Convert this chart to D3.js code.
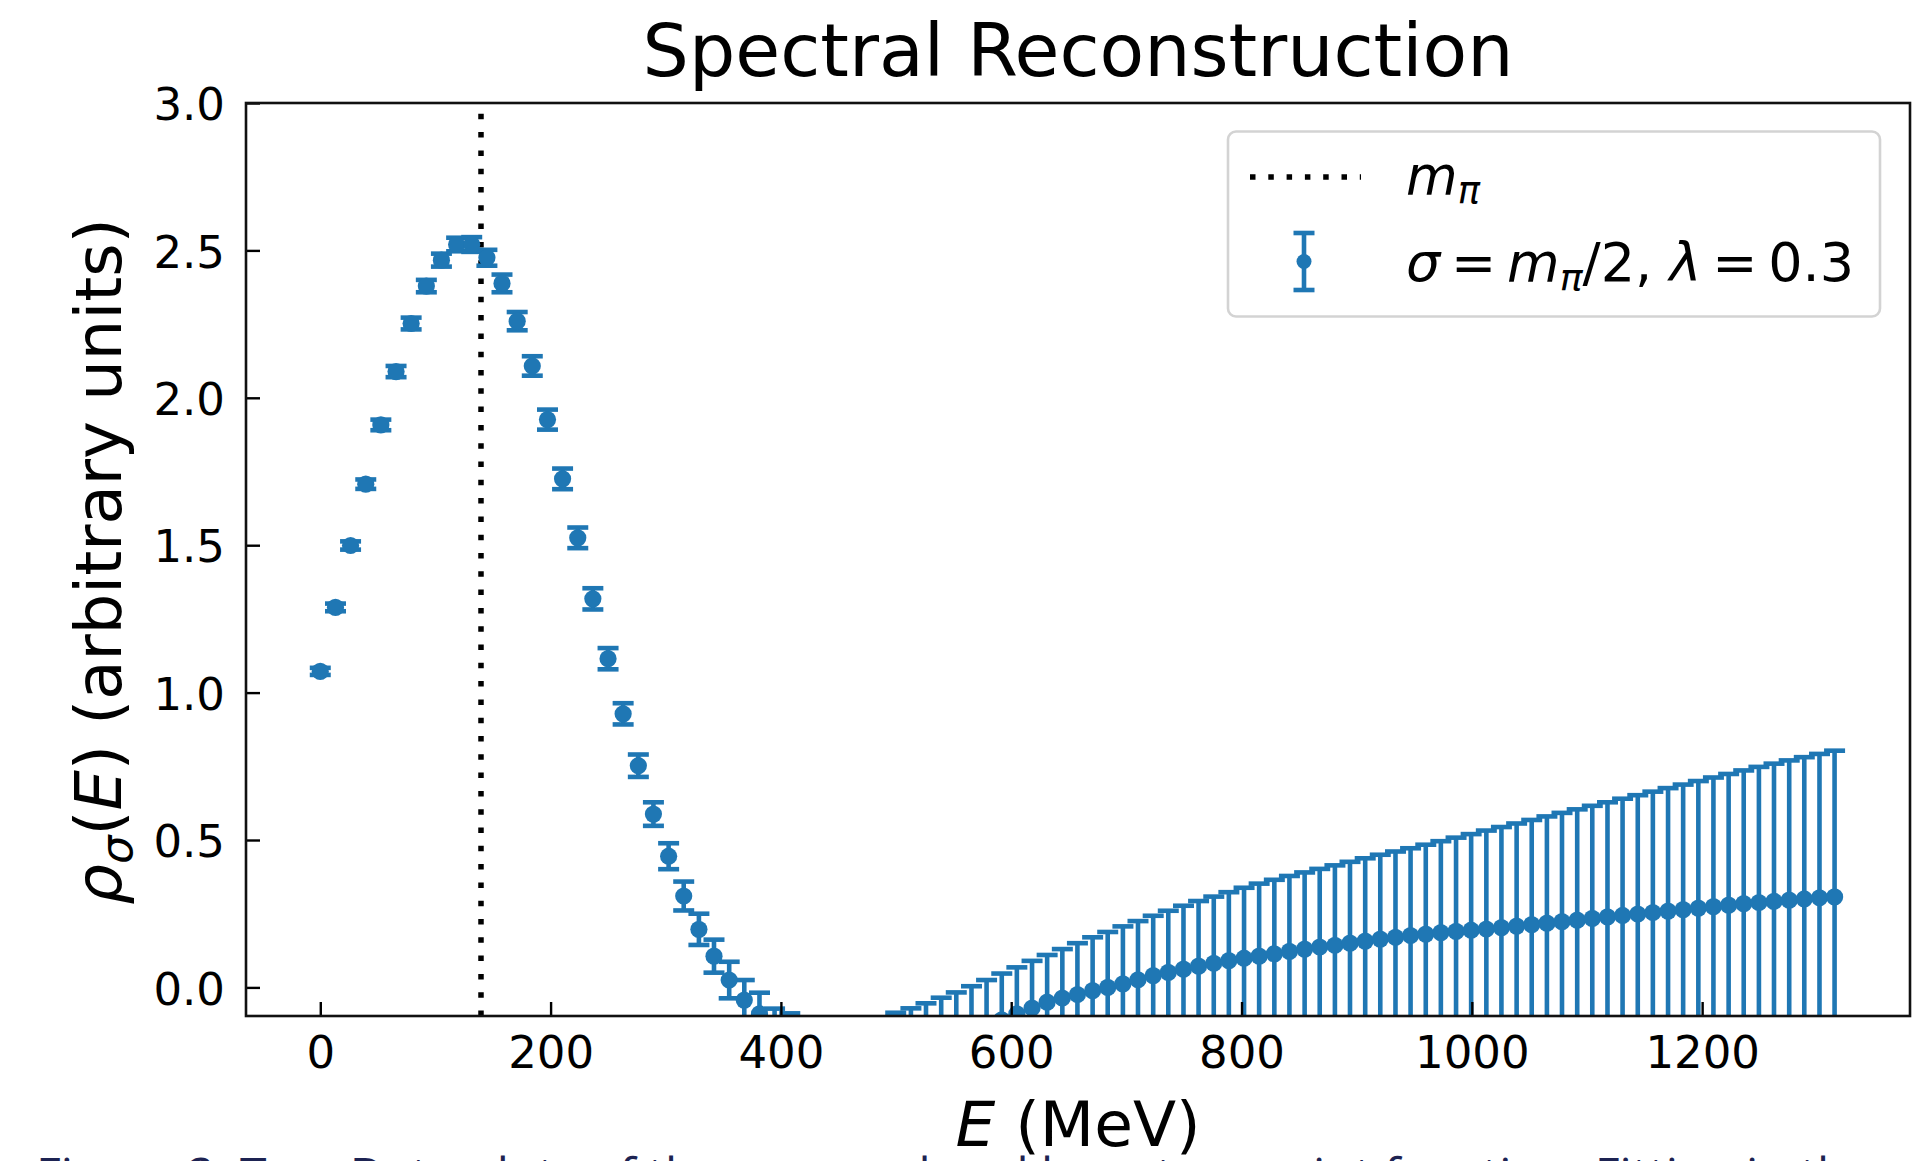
<!DOCTYPE html>
<html>
<head>
<meta charset="utf-8">
<script src="https://cdn.jsdelivr.net/npm/d3@7"></script>
<style>
  body { margin: 0; background: #fff; }
  svg text { font-family: "DejaVu Sans", sans-serif; fill: #000; }
</style>
</head>
<body>
<div id="chart"></div>
<script>
// reconstruction grid, E in MeV
var energy = [0, 13.2, 26.3, 39.5, 52.6, 65.8, 78.9, 92.1, 105.2, 118.4, 131.5, 144.7, 157.8, 171.0, 184.1, 197.3, 210.4, 223.6, 236.7, 249.9,
  263.0, 276.2, 289.3, 302.5, 315.6, 328.8, 341.9, 355.1, 368.2, 381.4, 394.5, 407.7, 420.8, 434.0, 447.1, 460.3, 473.4, 486.6, 499.7, 512.9,
  526.0, 539.2, 552.3, 565.5, 578.6, 591.8, 604.9, 618.1, 631.2, 644.4, 657.5, 670.7, 683.8, 697.0, 710.1, 723.3, 736.4, 749.6, 762.7, 775.9,
  789.0, 802.2, 815.3, 828.5, 841.6, 854.8, 867.9, 881.1, 894.2, 907.4, 920.5, 933.7, 946.8, 960.0, 973.1, 986.3, 999.4, 1012.6, 1025.7, 1038.9,
  1052.0, 1065.2, 1078.3, 1091.5, 1104.6, 1117.8, 1130.9, 1144.1, 1157.2, 1170.4, 1183.5, 1196.7, 1209.8, 1223.0, 1236.1, 1249.3, 1262.4, 1275.6, 1288.7, 1301.9,
  1315.0];

// smeared spectral density rho_sigma(E)
var rho = [1.072, 1.289, 1.499, 1.707, 1.908, 2.089, 2.252, 2.379, 2.467, 2.52, 2.52, 2.475, 2.388, 2.26, 2.108, 1.926, 1.725, 1.525, 1.318, 1.115,
  0.928, 0.752, 0.588, 0.445, 0.31, 0.197, 0.106, 0.025, -0.043, -0.09, -0.15, -0.17, -0.19, -0.205, -0.215, -0.22, -0.222, -0.22, -0.205, -0.195,
  -0.183, -0.17, -0.157, -0.142, -0.127, -0.11, -0.09, -0.07, -0.05, -0.036, -0.024, -0.011, 0.0, 0.012, 0.026, 0.04, 0.051, 0.062, 0.072, 0.082,
  0.091, 0.099, 0.106, 0.114, 0.122, 0.13, 0.137, 0.143, 0.15, 0.157, 0.164, 0.17, 0.176, 0.181, 0.186, 0.19, 0.194, 0.198, 0.203, 0.208,
  0.213, 0.218, 0.223, 0.228, 0.234, 0.239, 0.244, 0.249, 0.254, 0.259, 0.264, 0.269, 0.274, 0.279, 0.284, 0.288, 0.292, 0.296, 0.3, 0.304,
  0.307];

var rhoErr = [0.012, 0.013, 0.014, 0.016, 0.018, 0.019, 0.02, 0.021, 0.022, 0.023, 0.025, 0.027, 0.03, 0.031, 0.033, 0.034, 0.035, 0.035, 0.036, 0.036,
  0.036, 0.038, 0.04, 0.044, 0.049, 0.053, 0.056, 0.062, 0.068, 0.072, 0.078, 0.082, 0.086, 0.09, 0.095, 0.1, 0.105, 0.11, 0.119, 0.124,
  0.129, 0.135, 0.14, 0.146, 0.152, 0.157, 0.158, 0.16, 0.16, 0.166, 0.174, 0.181, 0.188, 0.195, 0.199, 0.203, 0.209, 0.215, 0.221, 0.226,
  0.232, 0.239, 0.246, 0.251, 0.256, 0.26, 0.265, 0.271, 0.276, 0.281, 0.286, 0.291, 0.296, 0.303, 0.31, 0.318, 0.326, 0.334, 0.341, 0.348,
  0.355, 0.362, 0.369, 0.376, 0.382, 0.389, 0.396, 0.403, 0.41, 0.417, 0.424, 0.431, 0.438, 0.445, 0.452, 0.46, 0.467, 0.474, 0.481, 0.488,
  0.496];

var mPi = 139.57;
var xTicks = [0, 200, 400, 600, 800, 1000, 1200];
var yTicks = [0, 0.5, 1.0, 1.5, 2.0, 2.5, 3.0];

var blue = "#1f77b4";

var width = 1927, height = 1161;
var margin = {top: 103, right: 17, bottom: 145, left: 246};
var plotW = width - margin.left - margin.right,
    plotH = height - margin.top - margin.bottom;

var svg = d3.select("#chart")
  .append("svg")
    .attr("width", width)
    .attr("height", height)
    .style("display", "block");

svg.append("rect").attr("width", width).attr("height", height).attr("fill", "#fff");

var x = d3.scaleLinear().domain([-64.5, 1380.5]).range([0, plotW]);
var y = d3.scaleLinear().domain([-0.097, 3.0]).range([plotH, 0]);

var g = svg.append("g").attr("transform", "translate(" + margin.left + "," + margin.top + ")");

g.append("clipPath").attr("id", "clip")
  .append("rect").attr("width", plotW).attr("height", plotH);

var plot = g.append("g").attr("clip-path", "url(#clip)");

// m_pi marker line (drawn from the bottom up so the dots start at the axis)
plot.append("line")
    .attr("x1", x(mPi)).attr("x2", x(mPi))
    .attr("y1", plotH).attr("y2", 0)
    .attr("stroke", "#000")
    .attr("stroke-width", 5.5)
    .attr("stroke-dasharray", "5.5,12.8");

var pts = energy.map(function(e, i) { return {e: e, v: rho[i], err: rhoErr[i]}; });
var capHalf = 10.5;

var bars = plot.append("g").selectAll("g")
  .data(pts)
  .enter()
  .append("g")
    .attr("stroke", blue)
    .attr("stroke-width", 4.6);

bars.append("line")
    .attr("x1", function(d) { return x(d.e); })
    .attr("x2", function(d) { return x(d.e); })
    .attr("y1", function(d) { return y(d.v - d.err); })
    .attr("y2", function(d) { return y(d.v + d.err); });
bars.append("line")
    .attr("x1", function(d) { return x(d.e) - capHalf; })
    .attr("x2", function(d) { return x(d.e) + capHalf; })
    .attr("y1", function(d) { return y(d.v + d.err); })
    .attr("y2", function(d) { return y(d.v + d.err); });
bars.append("line")
    .attr("x1", function(d) { return x(d.e) - capHalf; })
    .attr("x2", function(d) { return x(d.e) + capHalf; })
    .attr("y1", function(d) { return y(d.v - d.err); })
    .attr("y2", function(d) { return y(d.v - d.err); });

plot.append("g").selectAll("circle")
  .data(pts)
  .enter()
  .append("circle")
    .attr("cx", function(d) { return x(d.e); })
    .attr("cy", function(d) { return y(d.v); })
    .attr("r", 8.6)
    .attr("fill", blue);

// axes, ticks pointing inward
var xAxis = g.append("g")
    .attr("transform", "translate(0," + plotH + ")")
    .call(d3.axisBottom(x).tickValues(xTicks).tickSizeInner(-14).tickSizeOuter(0).tickPadding(20)
      .tickFormat(d3.format("d")));
var yAxis = g.append("g")
    .call(d3.axisLeft(y).tickValues(yTicks).tickSizeInner(-14).tickSizeOuter(0).tickPadding(21)
      .tickFormat(d3.format(".1f")));

[xAxis, yAxis].forEach(function(a) {
  a.select(".domain").remove();
  a.selectAll(".tick line").attr("stroke", "#000").attr("stroke-width", 2.4);
  a.selectAll(".tick text")
    .style("font-family", "DejaVu Sans")
    .style("font-size", "45px")
    .attr("fill", "#000");
});
yAxis.selectAll(".tick text").attr("dy", "0.37em");

// spines
g.append("rect")
    .attr("width", plotW).attr("height", plotH)
    .attr("fill", "none")
    .attr("stroke", "#111")
    .attr("stroke-width", 2.6);

// title
svg.append("text")
    .attr("x", margin.left + plotW / 2)
    .attr("y", 76)
    .attr("text-anchor", "middle")
    .style("font-size", "73px")
    .text("Spectral Reconstruction");

// x label
var xl = svg.append("text")
    .attr("x", margin.left + plotW / 2)
    .attr("y", 1146)
    .attr("text-anchor", "middle")
    .style("font-size", "63px");
xl.append("tspan").style("font-style", "italic").text("E");
xl.append("tspan").text(" (MeV)");

// y label
var yl = svg.append("text")
    .attr("transform", "translate(121," + (margin.top + plotH / 2 + 2) + ") rotate(-90)")
    .attr("text-anchor", "middle")
    .style("font-size", "64px");
yl.append("tspan").style("font-style", "italic").text("ρ");
yl.append("tspan").style("font-style", "italic").style("font-size", "45px").attr("dy", 11).text("σ");
yl.append("tspan").attr("dy", -11).text("(");
yl.append("tspan").style("font-style", "italic").text("E");
yl.append("tspan").text(") (arbitrary units)");

// legend
var leg = svg.append("g");
leg.append("rect")
    .attr("x", 1228).attr("y", 131.5)
    .attr("width", 652).attr("height", 185)
    .attr("rx", 8)
    .attr("fill", "#fff")
    .attr("fill-opacity", 0.8)
    .attr("stroke", "#d3d3d3")
    .attr("stroke-width", 2.6);

leg.append("line")
    .attr("x1", 1250).attr("x2", 1361)
    .attr("y1", 177).attr("y2", 177)
    .attr("stroke", "#000")
    .attr("stroke-width", 5.5)
    .attr("stroke-dasharray", "5.5,12.8");

var t1 = leg.append("text").attr("x", 1406).attr("y", 194).style("font-size", "53px");
t1.append("tspan").style("font-style", "italic").text("m");
t1.append("tspan").style("font-style", "italic").style("font-size", "37px").attr("dy", 9).text("π");

var lb = leg.append("g").attr("stroke", blue).attr("stroke-width", 4.6);
lb.append("line").attr("x1", 1304).attr("x2", 1304).attr("y1", 233).attr("y2", 290);
lb.append("line").attr("x1", 1304 - capHalf).attr("x2", 1304 + capHalf).attr("y1", 233).attr("y2", 233);
lb.append("line").attr("x1", 1304 - capHalf).attr("x2", 1304 + capHalf).attr("y1", 290).attr("y2", 290);
leg.append("circle").attr("cx", 1304).attr("cy", 261.5).attr("r", 7.5).attr("fill", blue);

var t2 = leg.append("text").attr("x", 1406).attr("y", 281).style("font-size", "54px");
t2.append("tspan").style("font-style", "italic").text("σ");
t2.append("tspan").text("\u2009=\u2009");
t2.append("tspan").style("font-style", "italic").text("m");
t2.append("tspan").style("font-style", "italic").style("font-size", "38px").attr("dy", 9).text("π");
t2.append("tspan").attr("dy", -9).text("/2, ");
t2.append("tspan").style("font-style", "italic").text("λ");
t2.append("tspan").text("\u2009=\u20090.3");

// caption of the page, cut off at the bottom edge
svg.append("text")
    .attr("x", 36)
    .attr("y", 1192)
    .style("font-family", "Open Sans")
    .style("font-size", "48px")
    .style("fill", "#1d2352")
    .text("Figure 2: Top: Data plots of the smeared and bare two-point function. Fitting in the");
</script>
</body>
</html>
